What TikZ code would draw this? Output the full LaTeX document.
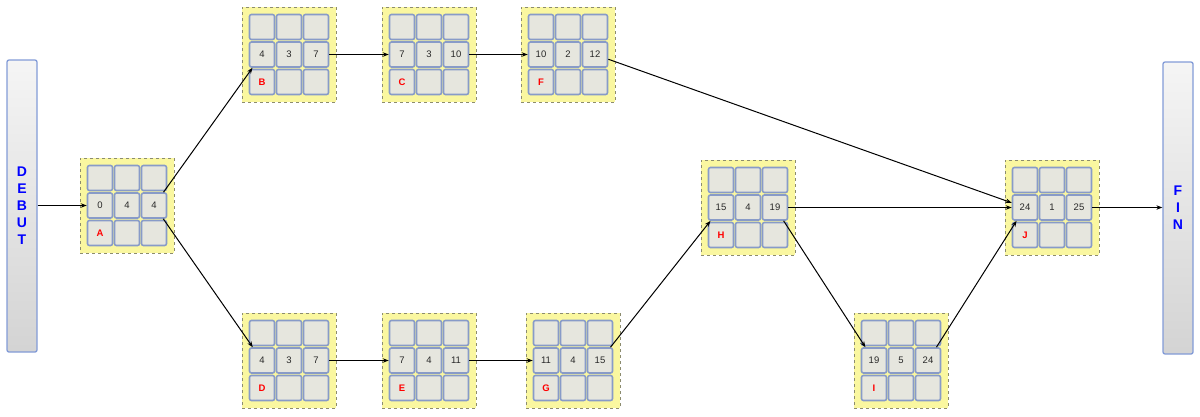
\documentclass[tikz,border=0pt]{standalone}
\usepackage{fontspec}
\setmainfont{Liberation Sans}
\usetikzlibrary{arrows.meta}
\definecolor{zonefill}{RGB}{250,247,160}
\definecolor{zonedraw}{RGB}{140,140,110}
\definecolor{cellblue}{RGB}{136,155,200}
\definecolor{cellfill}{RGB}{230,230,222}
\definecolor{bardraw}{RGB}{130,155,215}
\definecolor{numcol}{RGB}{40,40,40}
\tikzset{
  zone/.style={rectangle, draw=zonedraw, dashed, line width=0.6pt, fill=zonefill,
    minimum width=94pt, minimum height=95pt, inner sep=0pt},
  cell/.style={rectangle, rounded corners=2pt, draw=cellblue, line width=1.6pt,
    fill=cellfill,
    minimum size=25pt, inner sep=0pt, text=numcol, font=\fontsize{9.5}{10}\selectfont},
  endbar/.style={rectangle, rounded corners=2pt, draw=bardraw, line width=1.3pt,
    top color=white!96!black, bottom color=black!17, minimum width=30pt, inner sep=0pt,
    text=blue, font=\fontsize{14}{17}\selectfont\bfseries, align=center},
  arr/.style={-{Stealth[length=6pt,width=4.5pt]}, line width=1pt, black}
}
% #1 name, #2 x, #3 y (top-left of zone), #4 #5 #6 numbers, #7 letter
\newcommand\actnode[7]{%
  \node[zone] (#1) at (#2+47,#3+47.5) {};
  \node[cell] (#1-11) at (#2+20,#3+20) {};
  \node[cell] (#1-12) at (#2+47,#3+20) {};
  \node[cell] (#1-13) at (#2+74,#3+20) {};
  \node[cell] (#1-21) at (#2+20,#3+47.5) {#4};
  \node[cell] (#1-22) at (#2+47,#3+47.5) {#5};
  \node[cell] (#1-23) at (#2+74,#3+47.5) {#6};
  \node[cell] (#1-31) at (#2+20,#3+75) {\textcolor{red}{\bfseries #7}};
  \node[cell] (#1-32) at (#2+47,#3+75) {};
  \node[cell] (#1-33) at (#2+74,#3+75) {};
}
\begin{document}
\begin{tikzpicture}[x=1pt,y=-1pt]
\useasboundingbox (0,0) rectangle (1200,416);
\node[endbar, minimum height=292pt] (DEB) at (22,206) {D\\E\\B\\U\\T};
\node[endbar, minimum height=292pt] (FIN) at (1178,208) {F\\I\\N};
\actnode{A}{80}{158}{0}{4}{4}{A}
\actnode{B}{242}{7}{4}{3}{7}{B}
\actnode{C}{382}{7}{7}{3}{10}{C}
\actnode{F}{521}{7}{10}{2}{12}{F}
\actnode{D}{242}{313}{4}{3}{7}{D}
\actnode{E}{382}{313}{7}{4}{11}{E}
\actnode{G}{526}{313}{11}{4}{15}{G}
\actnode{H}{701}{160}{15}{4}{19}{H}
\actnode{I}{854}{313}{19}{5}{24}{I}
\actnode{J}{1005}{160}{24}{1}{25}{J}
\draw[arr] (A-21 -| DEB.east) -- (A-21);
\draw[arr] (A-23) -- (B-21);
\draw[arr] (A-23) -- (D-21);
\draw[arr] (B-23) -- (C-21);
\draw[arr] (C-23) -- (F-21);
\draw[arr] (F-23) -- (J-21);
\draw[arr] (D-23) -- (E-21);
\draw[arr] (E-23) -- (G-21);
\draw[arr] (G-23) -- (H-21);
\draw[arr] (H-23) -- (J-21);
\draw[arr] (H-23) -- (I-21);
\draw[arr] (I-23) -- (J-21);
\draw[arr] (J-23) -- (J-23 -| FIN.west);
\end{tikzpicture}
\end{document}
